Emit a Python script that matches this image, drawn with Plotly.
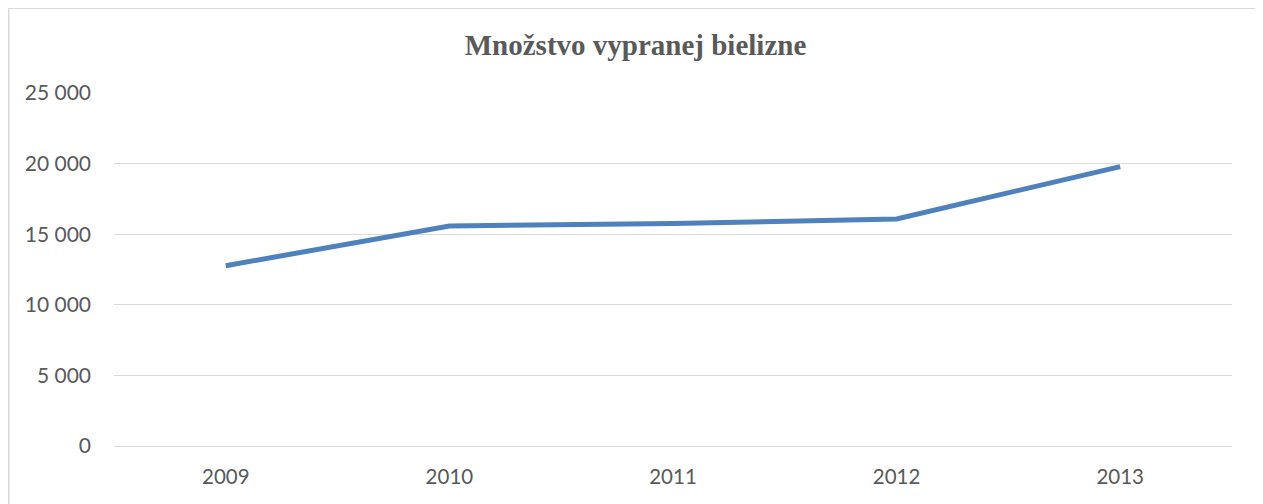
import plotly.graph_objects as go

years = ["2009", "2010", "2011", "2012", "2013"]
values = [12770, 15580, 15760, 16080, 19790]
y_ticks = [0, 5000, 10000, 15000, 20000, 25000]
title_text = "Množstvo vypranej bielizne"

# page body has an 8px margin, so the figure is drawn 8px right/down
OFF = 8
W, H = 1263 - OFF, 504 - OFF
L = 114 - OFF
T = 93.3 - OFF
R = W - (1232 - OFF)
B = H - (445.7 - OFF)
pw = W - L - R
ph = H - T - B

fig = go.Figure()
fig.add_trace(go.Scatter(
    x=years, y=values, mode="lines",
    line=dict(color="#4F81BD", width=5),
    showlegend=False,
))

def px_x(xp):
    return (xp - L) / pw

def px_y(yp):
    return (H - B - yp) / ph

fig.update_layout(
    width=W, height=H,
    margin=dict(l=L, r=R, t=T, b=B, autoexpand=False),
    paper_bgcolor="white", plot_bgcolor="white",
    separators=", ",
    title=dict(text="<b>" + title_text + "</b>", x=0.5, xanchor="center",
               y=1 - (45 - OFF) / H, yanchor="middle",
               font=dict(family="Liberation Serif", size=29, color="#595959")),
    xaxis=dict(type="category", range=[-0.5, 4.5], showgrid=False,
               showline=False, zeroline=False, ticks="",
               ticklabelstandoff=16,
               tickfont=dict(family="Lato", size=20.5, color="#595959")),
    yaxis=dict(range=[0, 25000], tickvals=y_ticks, tickformat=",d",
               showgrid=True, gridcolor="#D9D9D9", gridwidth=1,
               zeroline=True, zerolinecolor="#D9D9D9", zerolinewidth=1,
               showline=False, ticks="", ticklabelstandoff=22,
               tickfont=dict(family="Lato", size=21, color="#595959")),
    shapes=[dict(type="rect", xref="paper", yref="paper",
                 x0=px_x(0.75), x1=px_x(1253),
                 y0=px_y(H + 10), y1=px_y(0.75),
                 line=dict(color="#D9D9D9", width=1.5),
                 fillcolor="rgba(0,0,0,0)", layer="below")],
)

fig.write_html("out.html")
